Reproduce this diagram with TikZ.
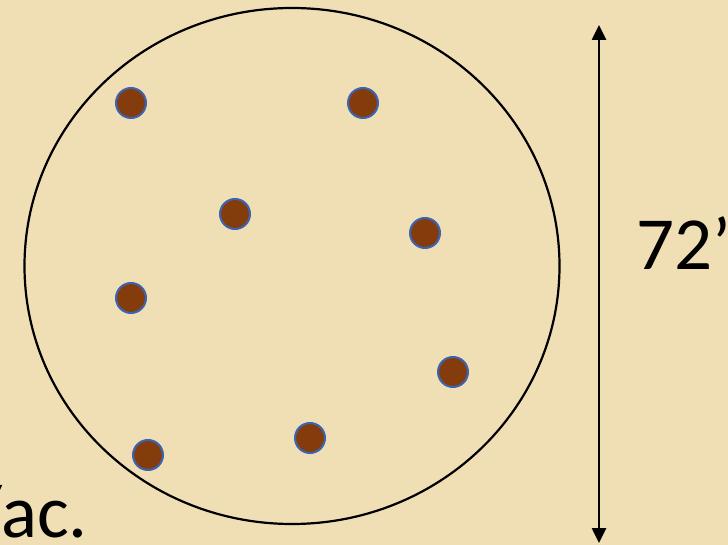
\documentclass[tikz,border=0pt]{standalone}
\usepackage{fontspec}
\setmainfont{Carlito}
\usetikzlibrary{arrows.meta}
\definecolor{paper}{RGB}{240,223,180}
\definecolor{holefill}{RGB}{132,60,12}
\definecolor{holeedge}{RGB}{60,100,180}
\tikzset{
  % planting hole
  hole/.style={circle, draw=holeedge, fill=holefill, line width=2pt, minimum size=30pt, inner sep=0pt},
  % plot outline
  plot/.style={draw=black, line width=2.2pt},
  % dimension arrow
  dimarrow/.style={{Triangle[length=15pt,width=14pt]}-{Triangle[length=15pt,width=14pt]}, line width=2.6pt},
  % big label
  biglabel/.style={font=\fontsize{75}{80}\selectfont, inner sep=0pt}
}
\begin{document}
\begin{tikzpicture}[x=1pt,y=-1pt]
  % background
  \fill[paper] (0,0) rectangle (728,545);
  \useasboundingbox (0,0) rectangle (728,545);

  % plot
  \draw[plot] (292,266) ellipse [x radius=267.5, y radius=258];

  % holes
  \foreach \name/\x/\y in {h1/131/103, h2/363/103, h3/235/214, h4/425/233,
                           h5/131/298, h6/453/372, h7/310/438, h8/148/455}
    \node[hole] (\name) at (\x,\y) {};

  % diameter
  \coordinate (top) at (599,25);
  \coordinate (bot) at (599,543);
  \draw[dimarrow] (top) -- (bot);
  \node[biglabel, anchor=base west] (dia) at (636,270) {72’};

  % cut-off rate
  \node[biglabel, anchor=base east] (rate) at (88,537) {/ac.};
\end{tikzpicture}
\end{document}
